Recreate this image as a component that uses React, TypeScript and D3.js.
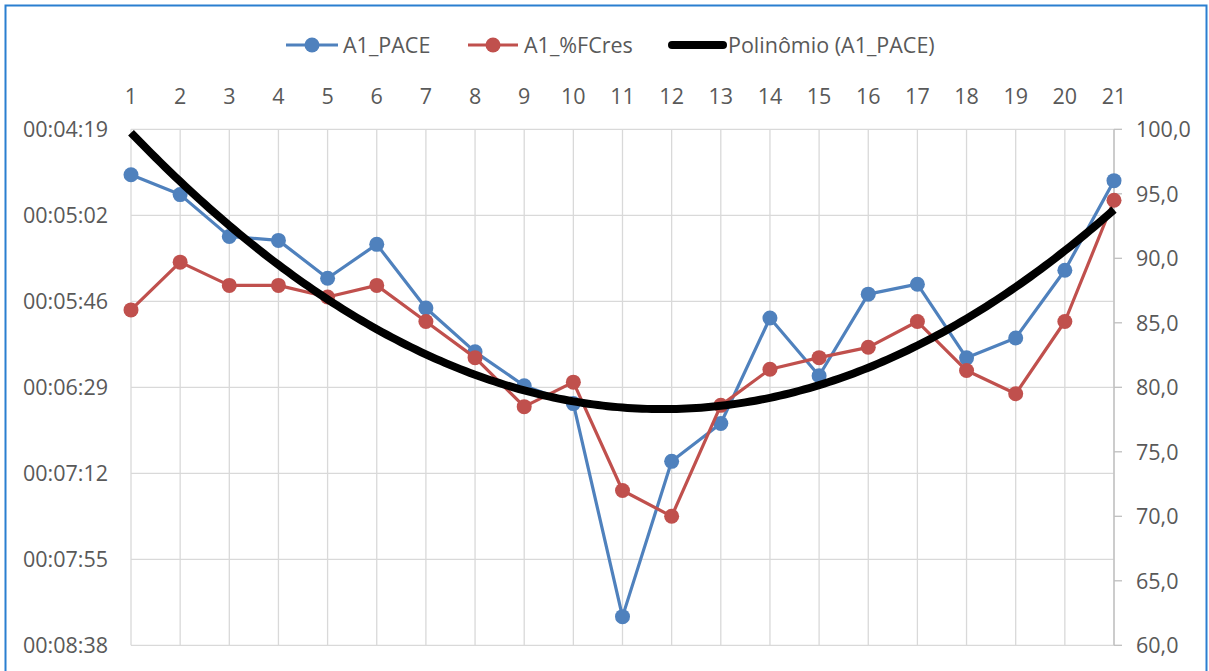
import React from "react";
import * as d3 from "d3";

// ---- data ----
const categories: number[] = d3.range(1, 22);
// A1_PACE in seconds per km (shown as hh:mm:ss on the left axis, inverted)
const pace: number[] = [282, 292, 313, 315, 334, 317, 349, 371, 388, 397, 504, 426, 407, 354, 383, 342, 337, 374, 364, 330, 285];
// A1_%FCres (right axis)
const fcres: number[] = [86.0, 89.7, 87.9, 87.9, 87.0, 87.9, 85.1, 82.3, 78.5, 80.4, 72.0, 70.0, 78.6, 81.4, 82.3, 83.1, 85.1, 81.3, 79.5, 85.1, 94.5];
const leftTickLabels: string[] = ["00:04:19", "00:05:02", "00:05:46", "00:06:29", "00:07:12", "00:07:55", "00:08:38"];
const rightTicks: number[] = [60, 65, 70, 75, 80, 85, 90, 95, 100];
const seriesNames: string[] = ["A1_PACE", "A1_%FCres", "Polinômio (A1_PACE)"];

const W = 1209;
const H = 671;
const BLUE = "#4f81bd";
const RED = "#c0504d";
const GRID = "#d9d9d9";
const TXT = "#595959";
const FONT = "'Open Sans', 'Noto Sans', sans-serif";
const FS = 21.5;

// Quadratic least squares fit (order-2 polynomial trendline)
function quadFit(xs: number[], ys: number[]) {
  const n = xs.length;
  let s1 = 0, s2 = 0, s3 = 0, s4 = 0, sy = 0, sxy = 0, sx2y = 0;
  for (let i = 0; i < n; i++) {
    const x = xs[i], y = ys[i];
    s1 += x; s2 += x * x; s3 += x * x * x; s4 += x * x * x * x;
    sy += y; sxy += x * y; sx2y += x * x * y;
  }
  const M = [
    [n, s1, s2, sy],
    [s1, s2, s3, sxy],
    [s2, s3, s4, sx2y],
  ];
  for (let c = 0; c < 3; c++) {
    let p = c;
    for (let r = c + 1; r < 3; r++) if (Math.abs(M[r][c]) > Math.abs(M[p][c])) p = r;
    [M[c], M[p]] = [M[p], M[c]];
    for (let r = 0; r < 3; r++) {
      if (r === c) continue;
      const f = M[r][c] / M[c][c];
      for (let k = c; k < 4; k++) M[r][k] -= f * M[c][k];
    }
  }
  return [M[0][3] / M[0][0], M[1][3] / M[1][1], M[2][3] / M[2][2]];
}

export default function App() {
  const left = 131, right = 1114, top = 129.3, bottom = 645.3;
  const x = d3.scaleLinear().domain([1, 21]).range([left, right]);
  const yL = d3.scaleLinear().domain([259.2, 518.4]).range([top, bottom]);
  const yR = d3.scaleLinear().domain([60, 100]).range([bottom, top]);
  const leftTickVals = leftTickLabels.map((_, i) => 259.2 + i * 43.2);

  const lineL = d3.line<number>().x((_, i) => x(categories[i])).y((d) => yL(d));
  const lineR = d3.line<number>().x((_, i) => x(categories[i])).y((d) => yR(d));

  const [a, b, c] = quadFit(categories, pace);
  const samples = d3.range(1, 21.0001, 0.1);
  const trend = d3.line<number>().x((t) => x(t)).y((t) => yL(a + b * t + c * t * t))(samples) || "";

  const legendY = 45;
  return (
    <svg width={W} height={H} style={{ position: "fixed", left: 0, top: 0, background: "#fff" }} fontFamily={FONT}>
      <rect x={0} y={0} width={W} height={H} fill="#fff" />
      <rect x={5.5} y={5.5} width={1201} height={720} fill="none" stroke="#2a7fd0" strokeWidth={2} />

      {/* gridlines */}
      {leftTickVals.map((v, i) => (
        <line key={"h" + i} x1={left} x2={right} y1={yL(v)} y2={yL(v)} stroke={GRID} strokeWidth={1.3} />
      ))}
      {categories.map((cat) => (
        <line key={"v" + cat} x1={x(cat)} x2={x(cat)} y1={top} y2={bottom} stroke={GRID} strokeWidth={1.3} />
      ))}
      {/* right axis */}
      <line x1={right} x2={right} y1={top} y2={bottom} stroke="#bfbfbf" strokeWidth={1.3} />
      {rightTicks.map((t) => (
        <line key={"rt" + t} x1={right} x2={right + 8} y1={yR(t)} y2={yR(t)} stroke="#bfbfbf" strokeWidth={1.3} />
      ))}

      {/* axis labels */}
      {categories.map((cat) => (
        <text key={"xl" + cat} x={x(cat)} y={104} textAnchor="middle" fontSize={FS} fill={TXT}>{cat}</text>
      ))}
      {leftTickLabels.map((lab, i) => (
        <text key={"ll" + i} x={108} y={yL(leftTickVals[i])} dy="0.36em" textAnchor="end" fontSize={FS} fill={TXT}>{lab}</text>
      ))}
      {rightTicks.map((t) => (
        <text key={"rl" + t} x={1136} y={yR(t)} dy="0.36em" textAnchor="start" fontSize={FS} fill={TXT}>{d3.format(".1f")(t).replace(".", ",")}</text>
      ))}

      {/* series */}
      <path d={lineL(pace) || ""} fill="none" stroke={BLUE} strokeWidth={3.2} strokeLinejoin="round" />
      {pace.map((v, i) => (
        <circle key={"bp" + i} cx={x(categories[i])} cy={yL(v)} r={7.5} fill={BLUE} />
      ))}
      <path d={lineR(fcres) || ""} fill="none" stroke={RED} strokeWidth={3.2} strokeLinejoin="round" />
      {fcres.map((v, i) => (
        <circle key={"rp" + i} cx={x(categories[i])} cy={yR(v)} r={7.5} fill={RED} />
      ))}
      <path d={trend} fill="none" stroke="#000" strokeWidth={8} strokeLinejoin="round" />

      {/* legend */}
      <g>
        <line x1={286} x2={338} y1={legendY} y2={legendY} stroke={BLUE} strokeWidth={3.2} />
        <circle cx={312} cy={legendY} r={7.5} fill={BLUE} />
        <text x={343} y={legendY} dy="0.36em" fontSize={FS} fill={TXT}>{seriesNames[0]}</text>
        <line x1={468} x2={518} y1={legendY} y2={legendY} stroke={RED} strokeWidth={3.2} />
        <circle cx={493} cy={legendY} r={7.5} fill={RED} />
        <text x={524} y={legendY} dy="0.36em" fontSize={FS} fill={TXT}>{seriesNames[1]}</text>
        <line x1={672} x2={723} y1={legendY} y2={legendY} stroke="#000" strokeWidth={8} strokeLinecap="round" />
        <text x={728} y={legendY} dy="0.36em" fontSize={FS} fill={TXT}>{seriesNames[2]}</text>
      </g>
    </svg>
  );
}
